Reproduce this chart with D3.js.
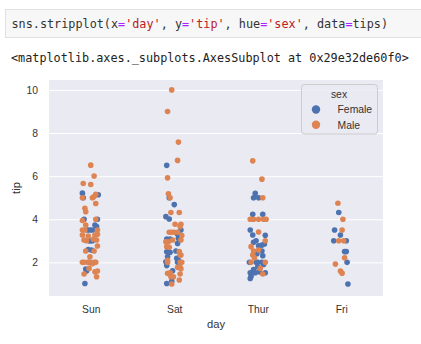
<!DOCTYPE html>
<html><head><meta charset="utf-8">
<script src="https://cdn.jsdelivr.net/npm/d3@7"></script>
<style>body{margin:0;background:#fff}svg{display:block}</style>
</head><body><svg id="c" width="421" height="344"></svg>
<script>
const days = ["Sun", "Sat", "Thur", "Fri"];
const sexes = ["Female", "Male"];
const yTicks = [2, 4, 6, 8, 10];
// [tip, jitter (category units)]
const sunFemale = [[5.21,-0.10],[5.14,0.09],[5.0,-0.09],[4.0,-0.08],[4.0,0.08],[3.73,0.05],[3.66,0.07],[3.5,-0.04],[3.5,-0.01],[3.5,0.02],[2.99,-0.01],[2.6,-0.03],[2.57,0.01],[1.69,-0.06],[1.6,-0.05],[1.02,-0.07],[3.0,0.02],[2.0,-0.02]];
const sunMale = [[6.51,0.0],[6.01,0.04],[5.66,-0.09],[5.61,0.0],[5.0,-0.10],[5.0,0.02],[5.05,0.04],[5.16,0.06],[4.73,0.06],[4.51,-0.07],[4.35,-0.06],[3.94,-0.10],[4.0,0.06],[3.73,-0.06],[3.5,-0.10],[3.5,-0.07],[3.5,0.08],[3.27,-0.10],[3.22,-0.03],[3.27,0.05],[3.3,0.08],[3.04,-0.08],[3.0,-0.05],[3.07,0.03],[3.04,0.07],[2.76,0.08],[2.53,-0.06],[2.53,0.04],[2.26,-0.01],[2.0,-0.10],[2.0,-0.08],[2.0,-0.04],[2.0,0.0],[2.0,0.04],[2.0,0.06],[1.94,0.02],[1.72,-0.02],[1.56,0.05],[1.6,0.08],[1.33,0.07],[1.46,-0.08]];
const satFemale = [[6.5,-0.09],[5.0,-0.06],[4.68,0.0],[4.12,-0.10],[4.01,-0.06],[3.5,0.08],[3.08,-0.09],[3.08,-0.05],[3.12,0.05],[2.88,0.04],[2.49,-0.09],[2.47,-0.05],[2.53,0.02],[2.26,-0.08],[2.19,0.03],[2.03,-0.10],[2.0,0.04],[1.61,-0.02],[1.13,-0.03],[1.02,-0.09],[3.3,0.04],[2.1,0.05],[1.85,-0.09]];
const satMale = [[10.0,-0.03],[9.0,-0.08],[7.58,0.05],[6.73,0.04],[5.92,-0.08],[5.18,-0.07],[5.0,-0.05],[4.31,-0.04],[4.31,0.06],[3.77,0.01],[3.77,0.08],[3.66,0.07],[3.4,-0.06],[3.4,-0.03],[3.4,0.0],[3.4,0.04],[3.04,0.08],[2.96,-0.10],[2.96,-0.07],[3.04,-0.02],[2.73,-0.09],[2.7,-0.06],[2.34,0.07],[2.34,0.08],[2.1,-0.08],[2.0,-0.08],[2.0,0.07],[2.0,0.09],[1.77,0.04],[1.77,0.07],[1.52,-0.05],[1.49,-0.08],[1.46,0.07],[1.33,-0.04],[1.33,-0.01],[1.18,0.06],[1.0,-0.03],[3.25,0.09],[2.5,0.06],[1.7,0.08]];
const thurFemale = [[5.2,-0.03],[5.0,-0.05],[5.0,0.01],[4.23,-0.06],[4.23,0.06],[3.5,-0.09],[3.27,-0.06],[3.26,0.09],[3.0,-0.02],[2.93,-0.05],[2.85,0.08],[2.77,0.01],[2.49,-0.02],[2.53,0.05],[2.31,0.06],[2.0,-0.10],[2.0,-0.02],[2.0,0.0],[2.0,0.05],[1.8,0.0],[1.67,-0.05],[1.52,-0.09],[1.52,-0.03],[1.56,0.02],[1.52,0.09],[1.36,-0.08],[1.25,-0.09],[2.8,0.05],[1.9,0.07],[2.4,-0.01]];
const thurMale = [[6.71,-0.06],[5.86,0.05],[5.0,0.06],[4.0,-0.09],[4.0,-0.05],[4.0,0.01],[4.0,0.07],[4.0,0.10],[3.41,0.01],[3.0,0.09],[2.73,-0.08],[2.53,-0.05],[2.57,0.01],[2.34,-0.06],[2.21,-0.04],[2.0,-0.08],[2.0,0.09],[1.72,0.03],[1.46,0.06]];
const friFemale = [[4.31,-0.03],[3.5,-0.08],[3.27,-0.01],[3.0,-0.09],[3.0,0.06],[2.5,0.04],[2.5,0.06],[2.0,0.07],[1.0,0.08]];
const friMale = [[4.74,-0.04],[4.0,0.02],[3.5,0.01],[3.0,-0.03],[3.0,0.03],[2.21,0.04],[1.92,-0.07],[1.6,-0.01],[1.5,0.01]];

const groups = [
  ["Sun","Female",sunFemale],["Sun","Male",sunMale],
  ["Sat","Female",satFemale],["Sat","Male",satMale],
  ["Thur","Female",thurFemale],["Thur","Male",thurMale],
  ["Fri","Female",friFemale],["Fri","Male",friMale]
];
const points = [];
groups.forEach(([day, sex, arr]) => arr.forEach(([tip, j]) => points.push({day, sex, tip, j})));

const svg = d3.select("#c");
const font = "'Liberation Sans', Arial, sans-serif";
const mono = "'DejaVu Sans Mono', 'Liberation Mono', monospace";

// code cell
svg.append("rect").attr("x",5.5).attr("y",9.5).attr("width",420).attr("height",28)
  .attr("fill","#f7f7f7").attr("stroke","#e0e0e0");
const code = svg.append("text").attr("x",11.5).attr("y",28).attr("font-family",mono)
  .attr("font-size",11.8).attr("fill","#333");
[["sns.stripplot(x","#333"],["=","#AA22FF"],["'day'","#BA2121"],[", y","#333"],["=","#AA22FF"],["'tip'","#BA2121"],
 [", hue","#333"],["=","#AA22FF"],["'sex'","#BA2121"],[", data","#333"],["=","#AA22FF"],["tips)","#333"]]
 .forEach(([t,c]) => code.append("tspan").attr("fill",c).text(t));
svg.append("text").attr("x",11).attr("y",61.5).attr("font-family",mono).attr("font-size",11.8)
  .attr("fill","#222").text("<matplotlib.axes._subplots.AxesSubplot at 0x29e32de60f0>");

// axes
const L = 49, R = 383, T = 80, B = 296;
const x = d3.scalePoint().domain(days).range([L, R]).padding(0.5);
const y = d3.scaleLinear().domain([0.44, 10.46]).range([B, T]);
const color = d3.scaleOrdinal().domain(sexes).range(["#4C72B0", "#DD8452"]);

svg.append("rect").attr("x",L).attr("y",T).attr("width",R-L).attr("height",B-T).attr("fill","#EAEAF2");

const yAxis = svg.append("g").attr("transform",`translate(${L},0)`)
  .call(d3.axisLeft(y).tickValues(yTicks).tickSize(-(R-L)).tickPadding(11).tickFormat(d3.format("d")));
yAxis.select(".domain").remove();
yAxis.selectAll("line").attr("stroke","#fff").attr("stroke-width",1);
yAxis.selectAll("text").attr("font-family",font).attr("font-size",10.3).attr("fill","#333");

const xAxis = svg.append("g").attr("transform",`translate(0,${B})`)
  .call(d3.axisBottom(x).tickSize(0).tickPadding(10));
xAxis.select(".domain").remove();
xAxis.selectAll("text").attr("font-family",font).attr("font-size",10.3).attr("fill","#333");

svg.append("text").attr("x",(L+R)/2).attr("y",328).attr("text-anchor","middle")
  .attr("font-family",font).attr("font-size",11.2).attr("fill","#333").text("day");
svg.append("text").attr("transform",`translate(19.5,${(T+B)/2}) rotate(-90)`).attr("text-anchor","middle")
  .attr("font-family",font).attr("font-size",11.2).attr("fill","#333").text("tip");

// points
const step = x.step();
svg.append("g").selectAll("circle").data(points).join("circle")
  .attr("cx", d => x(d.day) + d.j * step)
  .attr("cy", d => y(d.tip))
  .attr("r", 2.8)
  .attr("fill", d => color(d.sex));

// legend
const lg = svg.append("g");
lg.append("rect").attr("x",301.5).attr("y",84.5).attr("width",76).attr("height",49.5).attr("rx",3)
  .attr("fill","#EAEAF2").attr("fill-opacity",0.8).attr("stroke","#cccccc");
lg.append("text").attr("x",339).attr("y",98).attr("text-anchor","middle").attr("font-family",font)
  .attr("font-size",10.4).attr("fill","#333").text("sex");
sexes.forEach((s,i) => {
  lg.append("circle").attr("cx",316).attr("cy",109.5 + i*15.3).attr("r",4.2).attr("fill",color(s));
  lg.append("text").attr("x",337.5).attr("y",113.2 + i*15.3).attr("font-family",font)
    .attr("font-size",10.4).attr("fill","#333").text(s);
});
</script></body></html>
